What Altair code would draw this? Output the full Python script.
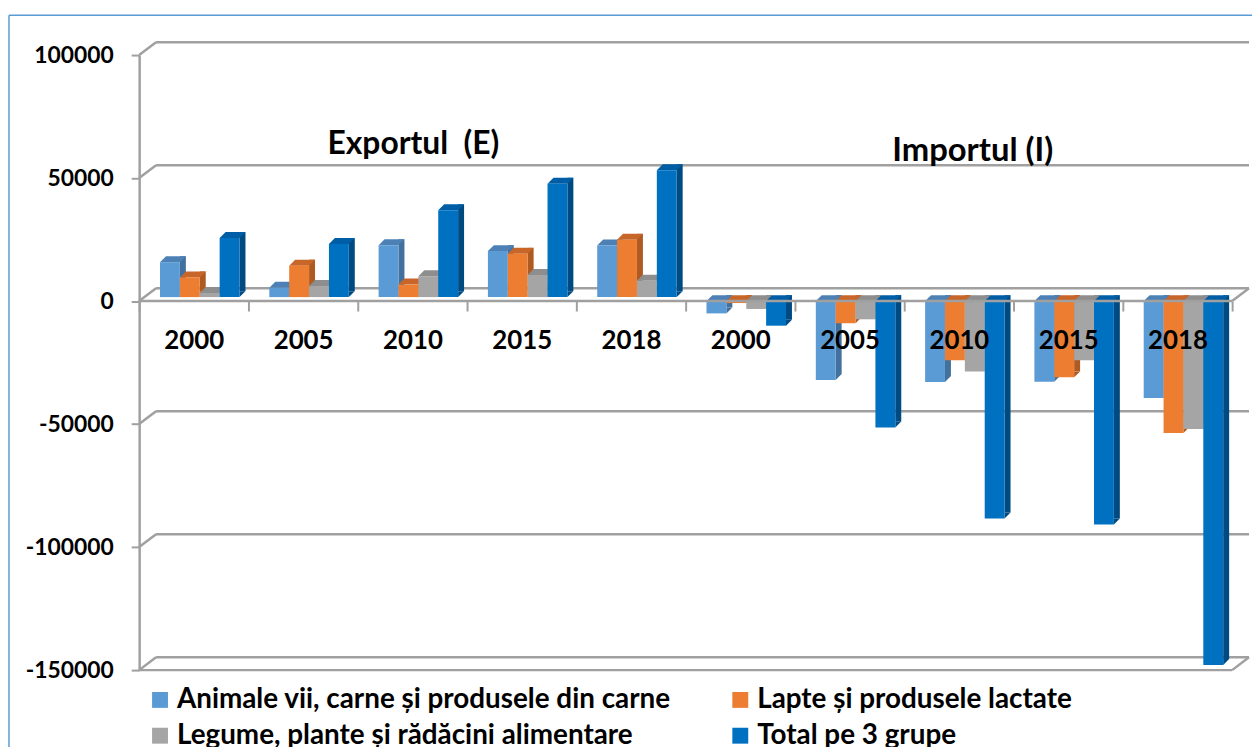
import altair as alt
import pandas as pd

years = ["2000", "2005", "2010", "2015", "2018"]
series = [
    "Animale vii, carne și produsele din carne",
    "Lapte și produsele lactate",
    "Legume, plante și rădăcini alimentare",
    "Total pe 3 grupe",
]

export_animale = [14200, 3800, 21100, 18700, 21000]
export_lapte = [8000, 12800, 5100, 17600, 23300]
export_legume = [1700, 4500, 8500, 9000, 6700]
export_total = [24000, 21600, 35300, 46100, 51600]

import_animale = [-5000, -32100, -32900, -32800, -39400]
import_lapte = [-800, -9000, -24000, -31000, -53600]
import_legume = [-3200, -7400, -28600, -24000, -52000]
import_total = [-10000, -51400, -88400, -90800, -147900]

tick_values = [100000, 50000, 0, -50000, -100000, -150000]

front_colors = ["#5b9bd5", "#ed7d31", "#a5a5a5", "#0070c0"]
side_colors = ["#41719c", "#ae5a21", "#7b7b7b", "#004a82"]
top_colors = ["#4d80b4", "#c8662a", "#8e8e8e", "#005ea6"]

W, H = 1100, 619
GRID = "#a0a0a0"
FONT = "Lato"
DX, DY = 17, -13      # depth of back wall
BDX, BDY = 6, -6      # depth of bars
offsets = [-24, -4, 16, 36]

rows = []
for g, arrs in [("E", [export_animale, export_lapte, export_legume, export_total]),
                ("I", [import_animale, import_lapte, import_legume, import_total])]:
    for si, s in enumerate(series):
        for yi, y in enumerate(years):
            rows.append({"cat": g + y, "group": g, "series": s, "value": arrs[si][yi]})
df = pd.DataFrame(rows)
cats = [g + y for g in "EI" for y in years]

xscale = alt.Scale(domain=cats, paddingInner=0, paddingOuter=0)
yscale = alt.Scale(domain=[-150000, 100000], nice=False, zero=False)

zero_pos = H * 100000 / 250000
xaxis = alt.Axis(orient="bottom", offset=-(H - zero_pos), labelExpr="substring(datum.label, 1)",
                 labelFont=FONT, labelFontWeight="bold", labelFontSize=26, labelColor="black",
                 labelPadding=17, labelAngle=0, tickBand="extent", tickSize=10, tickColor=GRID,
                 tickWidth=2, domain=False, title=None, grid=False, zindex=1)
yaxis = alt.Axis(values=tick_values, labelExpr="'' + datum.value", labelFont=FONT,
                 labelFontWeight="bold", labelFontSize=23, labelColor="black", labelPadding=18,
                 tickSize=8, tickColor=GRID, tickWidth=2, domainColor=GRID, domainWidth=2.5,
                 grid=False, title=None)

xenc = alt.X("cat:N", scale=xscale, axis=xaxis)


def yenc(field):
    return alt.Y(field, scale=yscale, axis=yaxis)


cscale = alt.Scale(domain=series, range=front_colors)
legend = alt.Legend(orient="none", legendX=7, legendY=635, columns=2, direction="horizontal",
                    title=None, symbolType="square", symbolSize=256, symbolStrokeWidth=0,
                    symbolOpacity=1, labelFont=FONT, labelFontWeight="bold", labelFontSize=28,
                    labelColor="black", labelOffset=3, labelLimit=800, columnPadding=55,
                    rowPadding=8, padding=0)

layers = []

# back wall gridlines
gdf = pd.DataFrame({"v": tick_values})
layers.append(alt.Chart(gdf).mark_rule(color=GRID, strokeWidth=2.5, yOffset=DY).encode(
    y=yenc("v:Q"), x=alt.value(DX), x2=alt.value(W + DX)))
layers.append(alt.Chart(gdf).mark_rule(color=GRID, strokeWidth=2.5, y2Offset=DY).encode(
    y=yenc("v:Q"), y2="v:Q", x=alt.value(0), x2=alt.value(DX)))
fdf = pd.DataFrame({"v": [0, -150000]})
layers.append(alt.Chart(fdf).mark_rule(color=GRID, strokeWidth=2.5, y2Offset=DY).encode(
    y=yenc("v:Q"), y2="v:Q", x=alt.value(W), x2=alt.value(W + DX)))

base = alt.Chart(df).transform_calculate(hi="max(datum.value, 0)", lo="min(datum.value, 0)")
for g, yo in [("E", -4), ("I", 0)]:
    for si, s in enumerate(series):
        o = offsets[si]
        sub = base.transform_filter((alt.datum.group == g) & (alt.datum.series == s))
        layers.append(sub.mark_bar(width=BDX, xOffset=o + 10 + BDX / 2, yOffset=yo + BDY,
                                   y2Offset=yo + BDY, color=side_colors[si]).encode(
            x=xenc, y=yenc("hi:Q"), y2="lo:Q"))
        layers.append(sub.mark_point(shape="M 10 0 L 10 -6 L 16 -6 Z", size=4, filled=True,
                                     opacity=1, color=side_colors[si], xOffset=o,
                                     yOffset=yo).encode(x=xenc, y=yenc("lo:Q")))
        layers.append(sub.mark_point(shape="M -10 0 L 10 0 L 16 -6 L -4 -6 Z", size=4,
                                     filled=True, opacity=1, color=top_colors[si], xOffset=o,
                                     yOffset=yo).encode(x=xenc, y=yenc("hi:Q")))
        layers.append(sub.mark_bar(width=20, xOffset=o, yOffset=yo, y2Offset=yo).encode(
            x=xenc, y=yenc("hi:Q"), y2="lo:Q",
            color=alt.Color("series:N", scale=cscale, legend=legend)))

# front floor edges
layers.append(alt.Chart(fdf).mark_rule(color=GRID, strokeWidth=2.5).encode(
    y=yenc("v:Q"), x=alt.value(0), x2=alt.value(W)))

# panel titles
tdf = pd.DataFrame({"cat": ["E2010", "I2010"], "ty": [64000, 60800],
                    "label": ["Exportul \u00a0(E)", "Importul (I)"]})
layers.append(alt.Chart(tdf).transform_filter(alt.datum.cat == "E2010").mark_text(
    font=FONT, fontWeight="bold", fontSize=32, color="black", baseline="middle", dx=1).encode(
    x=xenc, y=yenc("ty:Q"), text="label:N"))
layers.append(alt.Chart(tdf).transform_filter(alt.datum.cat == "I2010").mark_text(
    font=FONT, fontWeight="bold", fontSize=33, color="black", baseline="middle", dx=14).encode(
    x=xenc, y=yenc("ty:Q"), text="label:N"))

# chart-area border
one = pd.DataFrame({"a": [0]})
layers.append(alt.Chart(one).mark_rule(color="#5b9bd5", strokeWidth=1.5).encode(
    x=alt.value(-131), y=alt.value(-40), y2=alt.value(H + 90)))
layers.append(alt.Chart(one).mark_rule(color="#5b9bd5", strokeWidth=1.5).encode(
    y=alt.value(-40), x=alt.value(-131), x2=alt.value(W + 40)))

chart = alt.layer(*layers).properties(
    width=W, height=H,
    padding={"left": 132, "top": 45, "right": 20, "bottom": 75},
    autosize=alt.AutoSizeParams(type="none"),
).configure_view(stroke=None)

chart.save("out.html", embed_options={"renderer": "svg", "actions": False})
